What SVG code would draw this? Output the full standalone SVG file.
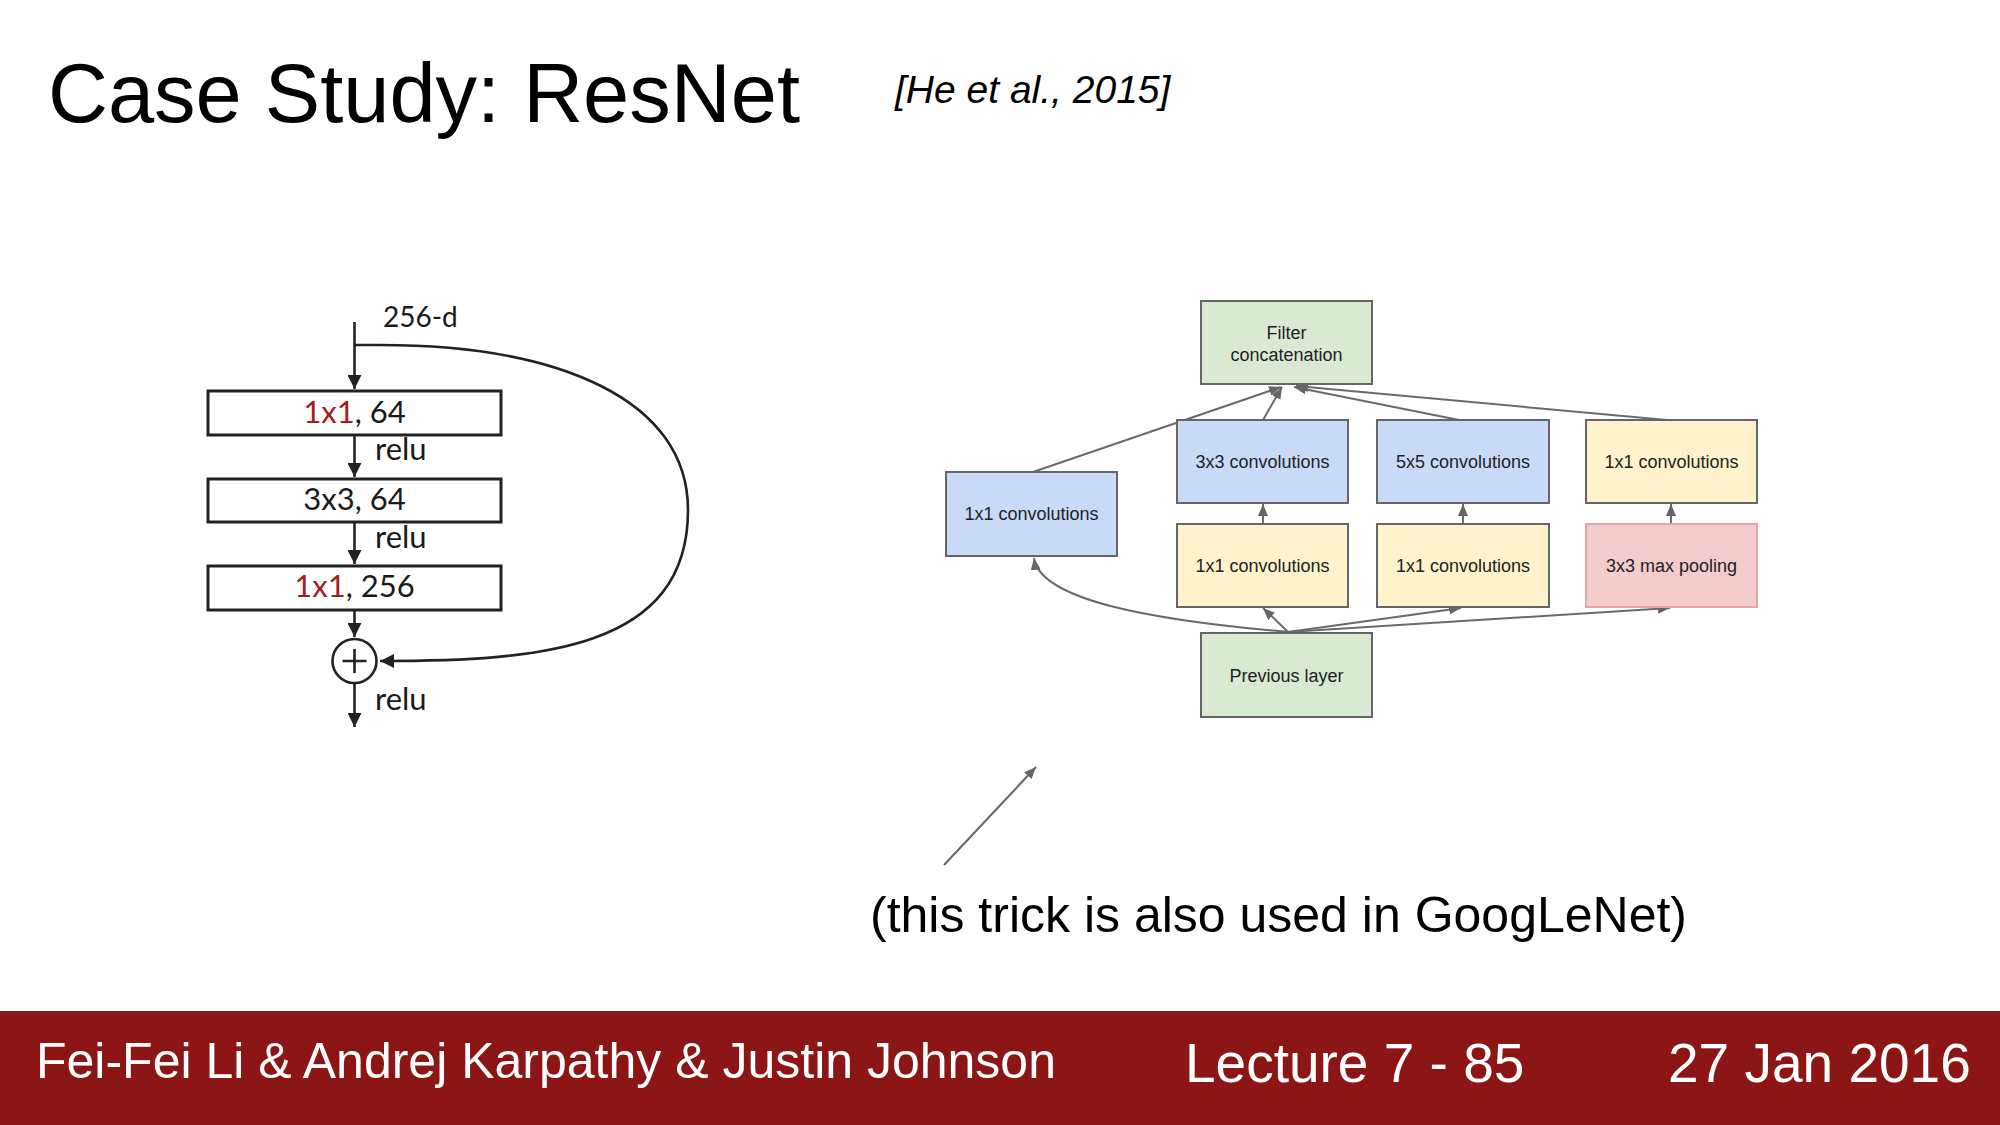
<svg xmlns="http://www.w3.org/2000/svg" width="2000" height="1125" viewBox="0 0 2000 1125">
<style>
.title{font-family:"Liberation Sans",Arial,sans-serif;fill:#000}
.foot{font-family:"Liberation Sans",Arial,sans-serif;fill:#fff}
.rbox{fill:#fff;stroke:#222;stroke-width:3}
.rtxt{font-family:Lato,"Open Sans",sans-serif;font-size:31px;fill:#1a1a1a}
.red{fill:#a61c1c}
.rline{fill:none;stroke:#222;stroke-width:2.6}
.gbox{stroke:#666;stroke-width:2}
.gtxt{font-family:"Liberation Sans",Arial,sans-serif;font-size:18px;fill:#222;text-anchor:middle}
.gline{fill:none;stroke:#6a6a6a;stroke-width:2}
.blue{fill:#c9daf8}.green{fill:#d9ead3}.yellow{fill:#fff2cc}
.pink{fill:#f4cccc;stroke:#e9a3a3;stroke-width:2}
</style>
<defs>
<marker id="ra" markerUnits="userSpaceOnUse" viewBox="0 0 14 14" refX="14" refY="7" markerWidth="14" markerHeight="14" orient="auto"><path d="M0,0 L14,7 L0,14 z" fill="#222"/></marker>
<marker id="ga" markerUnits="userSpaceOnUse" viewBox="0 0 12 10" refX="12" refY="5" markerWidth="12" markerHeight="10" orient="auto"><path d="M0,0 L12,5 L0,10 z" fill="#666"/></marker>
</defs>
<rect width="2000" height="1125" fill="#fff"/>
<text class="title" x="48" y="122" font-size="83">Case Study: ResNet</text>
<text class="title" x="895" y="103" font-size="39" font-style="italic">[He et al., 2015]</text>

<!-- ResNet block -->
<g id="resnet-connectors">
<path class="rline" d="M354.5,322 L354.5,389" marker-end="url(#ra)"/>
<path class="rline" d="M354.5,435 L354.5,477" marker-end="url(#ra)"/>
<path class="rline" d="M354.5,522 L354.5,564" marker-end="url(#ra)"/>
<path class="rline" d="M354.5,610 L354.5,637" marker-end="url(#ra)"/>
<path class="rline" d="M354.5,683 L354.5,727" marker-end="url(#ra)"/>
<path class="rline" d="M354.5,345 L380,345 C560,345 688,400 688,510 C688,650 540,661 380,661" marker-end="url(#ra)"/>
</g>
<g id="input-label"><text class="rtxt" x="383" y="327" font-size="28" style="font-size:28px">256-d</text></g>
<g id="box-1x1-64"><rect class="rbox" x="208" y="391" width="293" height="44"/><text class="rtxt" x="354.5" y="423" text-anchor="middle"><tspan class="red">1x1</tspan>, 64</text></g>
<g id="relu-1"><text class="rtxt" x="375" y="460">relu</text></g>
<g id="box-3x3-64"><rect class="rbox" x="208" y="479" width="293" height="43"/><text class="rtxt" x="354.5" y="510" text-anchor="middle">3x3, 64</text></g>
<g id="relu-2"><text class="rtxt" x="375" y="548">relu</text></g>
<g id="box-1x1-256"><rect class="rbox" x="208" y="566" width="293" height="44"/><text class="rtxt" x="354.5" y="597" text-anchor="middle"><tspan class="red">1x1</tspan>, 256</text></g>
<g id="sum"><circle cx="354.5" cy="661" r="22" fill="#fff" stroke="#222" stroke-width="2.6"/><path d="M342.5,661 H366.5 M354.5,649 V673" stroke="#222" stroke-width="2.6"/></g>
<g id="relu-3"><text class="rtxt" x="375" y="710">relu</text></g>

<!-- GoogLeNet inception -->
<g id="inception-connectors">
<path class="gline" d="M1033,472 L1281,387" marker-end="url(#ga)"/>
<path class="gline" d="M1263,420 L1282,387" marker-end="url(#ga)"/>
<path class="gline" d="M1459,420 L1294,387" marker-end="url(#ga)"/>
<path class="gline" d="M1667,420 L1296,386" marker-end="url(#ga)"/>
<path class="gline" d="M1263,524 L1263,504" marker-end="url(#ga)"/>
<path class="gline" d="M1463,524 L1463,504" marker-end="url(#ga)"/>
<path class="gline" d="M1671,524 L1671,504" marker-end="url(#ga)"/>
<path class="gline" d="M1288,632 L1263,608" marker-end="url(#ga)"/>
<path class="gline" d="M1288,632 L1461,608" marker-end="url(#ga)"/>
<path class="gline" d="M1288,632 L1670,608" marker-end="url(#ga)"/>
<path class="gline" d="M1288,632 C1150,620 1040,600 1034,558" marker-end="url(#ga)"/>
</g>
<g id="filter-concat"><rect class="gbox green" x="1201" y="301" width="171" height="83"/><text class="gtxt" x="1286.5" y="339">Filter</text><text class="gtxt" x="1286.5" y="361">concatenation</text></g>
<g id="conv1x1-a"><rect class="gbox blue" x="946" y="472" width="171" height="84"/><text class="gtxt" x="1031.5" y="520">1x1 convolutions</text></g>
<g id="conv3x3"><rect class="gbox blue" x="1177" y="420" width="171" height="83"/><text class="gtxt" x="1262.5" y="468">3x3 convolutions</text></g>
<g id="conv5x5"><rect class="gbox blue" x="1377" y="420" width="172" height="83"/><text class="gtxt" x="1463" y="468">5x5 convolutions</text></g>
<g id="conv1x1-d"><rect class="gbox yellow" x="1586" y="420" width="171" height="83"/><text class="gtxt" x="1671.5" y="468">1x1 convolutions</text></g>
<g id="conv1x1-b"><rect class="gbox yellow" x="1177" y="524" width="171" height="83"/><text class="gtxt" x="1262.5" y="572">1x1 convolutions</text></g>
<g id="conv1x1-c"><rect class="gbox yellow" x="1377" y="524" width="172" height="83"/><text class="gtxt" x="1463" y="572">1x1 convolutions</text></g>
<g id="maxpool"><rect class="pink" x="1586" y="524" width="171" height="83"/><text class="gtxt" x="1671.5" y="572">3x3 max pooling</text></g>
<g id="previous-layer"><rect class="gbox green" x="1201" y="633" width="171" height="84"/><text class="gtxt" x="1286.5" y="682">Previous layer</text></g>

<g id="note">
<path d="M944,865 L1036,767" stroke="#666" stroke-width="2" fill="none" marker-end="url(#ga)"/>
<text class="title" x="870" y="932" font-size="50">(this trick is also used in GoogLeNet)</text>
</g>

<g id="footer">
<rect x="0" y="1011" width="2000" height="114" fill="#8c1616"/>
<text class="foot" x="36" y="1078" font-size="50">Fei-Fei Li &amp; Andrej Karpathy &amp; Justin Johnson</text>
<text class="foot" x="1185" y="1082" font-size="55">Lecture 7 - 85</text>
<text class="foot" x="1668" y="1082" font-size="55">27 Jan 2016</text>
</g>
</svg>
